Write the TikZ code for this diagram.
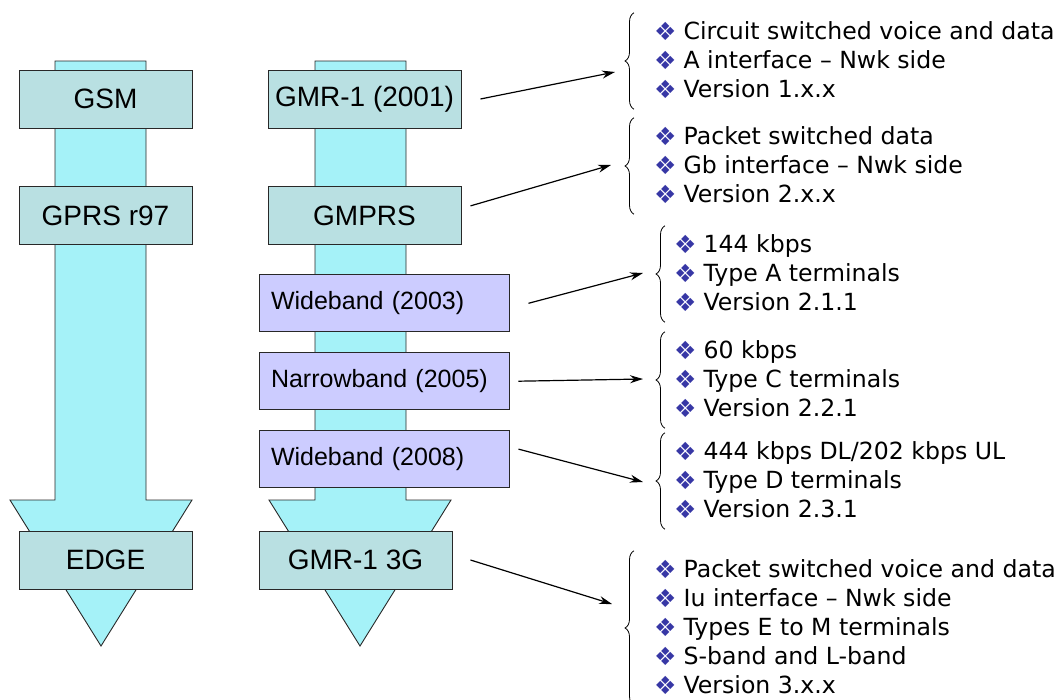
\documentclass[tikz,border=0pt]{standalone}
\usepackage{fontspec}
\setmainfont{Liberation Sans}
\newfontfamily\infofont{DejaVu Sans}
\usetikzlibrary{positioning,arrows.meta,decorations.pathreplacing}

\definecolor{boxteal}{RGB}{185,224,226}
\definecolor{shaftcyan}{RGB}{165,242,248}
\definecolor{boxlilac}{RGB}{204,204,255}
\definecolor{bulblue}{RGB}{55,55,165}
\definecolor{edgegray}{RGB}{40,40,40}

\newcommand{\bul}{\strut\raisebox{-1pt}{\smash{\color{bulblue}\fontsize{25pt}{25pt}\selectfont ❖}}\hspace{7pt}}

\begin{document}
\begin{tikzpicture}[x=1pt,y=-1pt]

% definitions
\tikzstyle{gen} = [rectangle, minimum height=58pt, inner sep=0pt, text centered, draw=edgegray, line width=0.9pt, fill=boxteal, font=\fontsize{28pt}{28pt}\selectfont]

\tikzstyle{band} = [rectangle, minimum width=250pt, minimum height=57pt, inner xsep=12pt, text width=226pt, align=left, draw=edgegray, line width=0.9pt, fill=boxlilac, font=\fontsize{25pt}{25pt}\selectfont]

\tikzstyle{info} = [anchor=west, inner xsep=0pt, inner ysep=4.5pt, align=left, font=\infofont\fontsize{23.6pt}{29pt}\selectfont]

\tikzstyle{column} = [fill=shaftcyan, draw=edgegray, line width=0.9pt]

\tikzstyle{curly} = [decorate, decoration={brace, amplitude=9pt}, line width=0.8pt]

\tikzstyle{link} = [->, >={Stealth[length=13pt,width=8pt]}, line width=1.2pt]

\useasboundingbox (0,0) rectangle (1062,699);

% the two evolution arrows
\filldraw [column] (55,61) -- (146,61) -- (146,500) -- (192,500) -- (101,646) -- (10,500) -- (55,500) -- cycle;
\filldraw [column] (315,61) -- (406,61) -- (406,500) -- (451,500) -- (360,646) -- (269,500) -- (315,500) -- cycle;

% the graph
\node (gsm) [gen, minimum width=173pt] at (105.5,99) {GSM};

\node (gprs) [gen, minimum width=173pt, below=58pt of gsm] {GPRS r97};

\node (edge) [gen, minimum width=173pt] at (105.5,560) {EDGE};

\node (gmr) [gen, minimum width=193pt] at (364.5,99) {GMR-1 (2001)};

\node (gmprs) [gen, minimum width=193pt, below=58pt of gmr] {GMPRS};

\node (wbA) [band, below=29pt of gmprs, xshift=19.5pt] {\raisebox{-3pt}{Wideband (2003)}};

\node (nb) [band, below=20pt of wbA] {\raisebox{-2pt}{Narrowband (2005)}};

\node (wbB) [band, below=20pt of nb] {\raisebox{-3pt}{Wideband (2008)}};

\node (gmr3g) [gen, minimum width=193pt] at (355.5,560) {GMR-1 3G};

% feature lists
\node (i1) [info] at (654,63) {\bul Circuit switched voice and data\\ \bul A interface – Nwk side\\ \bul Version 1.x.x};

\node (i2) [info] at (654,168) {\bul Packet switched data\\ \bul Gb interface – Nwk side\\ \bul Version 2.x.x};

\node (i3) [info] at (674,276) {\bul 144 kbps\\ \bul Type A terminals\\ \bul Version 2.1.1};

\node (i4) [info] at (674,382) {\bul 60 kbps\\ \bul Type C terminals\\ \bul Version 2.2.1};

\node (i5) [info] at (674,483) {\bul 444 kbps DL/202 kbps UL\\ \bul Type D terminals\\ \bul Version 2.3.1};

\node (i6) [info] at (654,630) {\bul Packet switched voice and data\\ \bul Iu interface – Nwk side\\ \bul Types E to M terminals\\ \bul S-band and L-band\\ \bul Version 3.x.x};

\foreach \b/\g in {i1/20,i2/20,i3/9,i4/9,i5/9,i6/20}
  \draw [curly] ([xshift=-\g pt,yshift=2pt]\b.south west) -- ([xshift=-\g pt,yshift=2pt]\b.north west);

\coordinate (e1) at ([xshift=-39pt,yshift=-9pt]i1.west);
\coordinate (e2) at ([xshift=-43pt,yshift=3pt]i2.west);
\coordinate (e3) at ([xshift=-31pt,yshift=3pt]i3.west);
\coordinate (e4) at ([xshift=-31pt,yshift=3pt]i4.west);
\coordinate (e5) at ([xshift=-31pt,yshift=1pt]i5.west);
\coordinate (e6) at ([xshift=-42pt,yshift=26pt]i6.west);

\draw [link] ([xshift=19pt]gmr.east) -- (e1);
\draw [link] ([xshift=9pt,yshift=10pt]gmprs.east) -- (e2);
\draw [link] ([xshift=19pt]wbA.east) -- (e3);
\draw [link] ([xshift=9pt]nb.east) -- (e4);
\draw [link] ([xshift=9pt,yshift=10pt]wbB.east) -- (e5);
\draw [link] ([xshift=18pt]gmr3g.east) -- (e6);

\end{tikzpicture}
\end{document}
